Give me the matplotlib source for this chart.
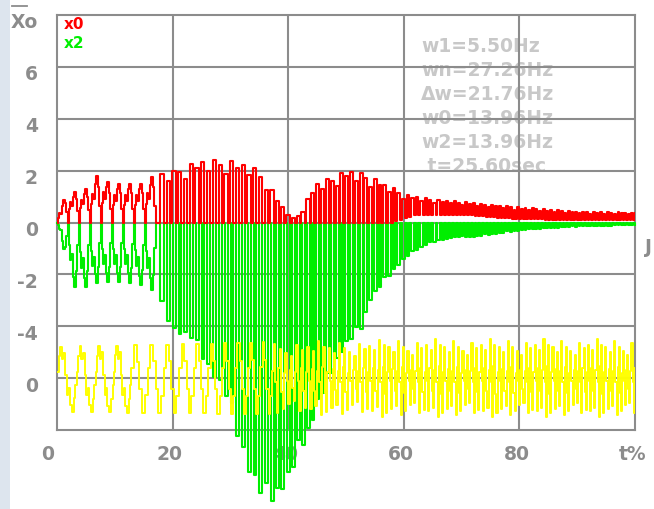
import numpy as np
import matplotlib
matplotlib.use('Agg')
import matplotlib.pyplot as plt
from matplotlib.transforms import offset_copy, blended_transform_factory
from matplotlib.patches import Rectangle
from matplotlib.lines import Line2D

W, H, DPI = 654, 509, 100

# ---------------- text content ----------------
x_tick_vals = [0, 20, 40, 60, 80, 100]
x_tick_text = ['0', '20', '40', '60', '80', 't%']
y_tick_vals = [6, 4, 2, 0, -2, -4, -6]
y_tick_text = ['6', '4', '2', '0', '-2', '-4', '0']
y_label = 'Xo'
legend_text = ['x0', 'x2']
info_text = ['w1=5.50Hz', 'wn=27.26Hz', '\u0394w=21.76Hz', 'w0=13.96Hz',
             'w2=13.96Hz', ' t=25.60sec']

# ---------------- x0 (red): envelope ----------------
red_t = [0, 1.5, 5, 7, 9, 15, 17, 20, 25, 29, 32, 33.5, 35.5, 38, 40, 41,
         42.5, 44.5, 47, 50, 51, 53.5, 56.5, 60, 63, 67, 72, 80, 89, 100]
red_hi = [0.3, 1.1, 1.3, 1.85, 1.5, 1.5, 1.9, 2.0, 2.4, 2.4, 2.3, 2.2, 1.75,
          0.85, 0.25, 0.15, 0.6, 1.5, 1.7, 2.0, 2.0, 1.8, 1.5, 1.1, 0.95,
          0.85, 0.75, 0.58, 0.42, 0.38]
red_lo_t = [0, 58, 62, 70, 80, 100]
red_lo = [0.0, 0.0, 0.3, 0.3, 0.12, 0.1]

# ---------------- x2 (green): envelope ----------------
green_t = [0, 1.4, 2.8, 5.4, 7, 12, 16, 18.4, 20, 23, 26, 28.8, 31, 33.4,
           35.7, 37.4, 39.8, 41.5, 43.3, 45, 47, 49, 52.4, 54, 56, 59, 61,
           64, 68, 72, 80, 90, 100]
green_lo = [0, -1.35, -2.5, -2.5, -2.3, -2.3, -2.5, -3.5, -4.2, -4.5, -5.6,
            -6.6, -8.2, -9.9, -10.8, -10.7, -10.0, -9.0, -8.1, -7.0, -6.0,
            -5.0, -4.1, -3.0, -2.4, -1.6, -1.2, -0.8, -0.6, -0.55, -0.3,
            -0.15, -0.1]
green_hi_t = [0, 100]
green_hi = [0.0, 0.0]

# ---------------- third trace (yellow), zero line at -6 ----------------
yel_zero = -6
yel_t = [0, 20, 40, 60, 100]
yel_hi = [1.2, 1.3, 1.4, 1.5, 1.5]
yel_lo = [-1.3, -1.35, -1.4, -1.5, -1.5]

# oscillation period (in t units) and pulse duty
rg_t = [0, 16, 18, 35, 42, 60, 70, 100]
rg_period = [1.9, 1.9, 1.0, 1.0, 0.85, 0.8, 0.65, 0.6]
red_duty = [0.5, 0.5, 0.55, 0.55, 0.65, 0.6, 0.5, 0.5]
green_duty = [0.5, 0.5, 0.45, 0.5, 0.6, 0.6, 0.5, 0.5]
red_scale = [1.0, 0.9, 0.97, 0.82, 1.0, 0.93, 0.78]
green_scale = [1.0, 0.96, 0.99, 0.93, 1.0, 0.97]
yel_per_t = [0, 20, 40, 60, 100]
yel_period = [3.4, 2.6, 1.9, 1.6, 1.5]
yel_scale = [1.0, 0.8, 0.95, 0.7, 0.9, 0.85]

# cycle shapes (phase, level) used to draw the stepped traces
slow_shape = [(0, 0.0), (0.1, 0.45), (0.2, 0.7), (0.3, 0.55), (0.45, 0.85),
              (0.55, 1.0), (0.7, 0.75), (0.85, 0.35)]
y_shape_slow = [(0, 0.2), (0.08, 0.7), (0.16, 1.0), (0.24, 0.6), (0.32, 0.8),
                (0.42, 0.1), (0.5, -0.5), (0.58, -0.3), (0.66, -0.8),
                (0.76, -1.0), (0.86, -0.6), (0.94, -0.2)]
y_shape_mid = [(0, 0.3), (0.17, 1.0), (0.33, 0.5), (0.5, -0.3), (0.67, -1.0),
               (0.83, -0.5)]
y_shape_fast = [(0, 0.2), (0.12, 1.0), (0.25, -0.1), (0.4, -1.0), (0.52, 0.3),
                (0.64, 0.85), (0.76, -0.4), (0.88, -0.9)]


def cycle_starts(tk, pk):
    s = [0.0]
    while s[-1] < 100:
        s.append(s[-1] + float(np.interp(s[-1], tk, pk)))
    return s


def pulse_trace(tk_hi, v_hi, tk_rest, v_rest, duty_k, scale_k):
    ts, vs = [], []
    for k, t0 in enumerate(cycle_starts(rg_t, rg_period)):
        P = float(np.interp(t0, rg_t, rg_period))
        if P > 1.5:
            shape, sc = slow_shape, 1.0
        else:
            d = float(np.interp(t0, rg_t, duty_k))
            shape, sc = [(0, 0.0), (1 - d, 1.0)], scale_k[k % len(scale_k)]
        for ph, s in shape:
            tt = t0 + ph * P
            if tt > 100:
                break
            r = np.interp(tt, tk_rest, v_rest)
            p = np.interp(tt, tk_hi, v_hi)
            ts.append(tt)
            vs.append(r + s * sc * (p - r))
    return ts, vs


def yellow_trace():
    ts, vs = [], []
    for k, t0 in enumerate(cycle_starts(yel_per_t, yel_period)):
        P = float(np.interp(t0, yel_per_t, yel_period))
        if P >= 2.9:
            shape, sc = y_shape_slow, 1.0
        elif P >= 2.0:
            shape, sc = y_shape_mid, 1.0
        else:
            shape, sc = y_shape_fast, yel_scale[k % len(yel_scale)]
        for ph, s in shape:
            tt = t0 + ph * P
            if tt > 100:
                break
            amp = np.interp(tt, yel_t, yel_hi) if s >= 0 else -np.interp(tt, yel_t, yel_lo)
            ts.append(tt)
            vs.append(yel_zero + s * sc * amp)
    return ts, vs


GRAY = '#8c8c8c'
LIGHT = '#c8c8c8'
FONT = dict(family='DejaVu Sans', weight='bold', size=13.5)
LFONT = dict(family='DejaVu Sans', weight='bold', size=11)

fig = plt.figure(figsize=(W / DPI, H / DPI), dpi=DPI)
fig.patch.set_facecolor('white')
fig.patches.append(Rectangle((0, 0), 10 / W, 1, transform=fig.transFigure,
                             facecolor='#dde5ee', edgecolor='none', zorder=-5))

ax = fig.add_axes([57 / W, 1 - 430 / H, 578 / W, 415 / H])
ax.set_xlim(0, 100)
ax.set_ylim(-8, 8)
ax.set_xticks([])
ax.set_yticks([])
for sp in ax.spines.values():
    sp.set_color(GRAY)
    sp.set_linewidth(1.5)
    sp.set_zorder(2)

for v in range(-6, 8, 2):
    ax.axhline(v, color=GRAY, lw=1.5, zorder=2)
for v in x_tick_vals[1:-1]:
    ax.axvline(v, color=GRAY, lw=1.5, zorder=2)

# info text block (under the grid)
for i, s in enumerate(info_text):
    ax.text(421 / W, 1 - (52 + 24 * i) / H, s, transform=fig.transFigure,
            color=LIGHT, ha='left', va='baseline', zorder=1.5, clip_on=False,
            **FONT)

# traces
yt, yv = yellow_trace()
gt, gv = pulse_trace(green_t, green_lo, green_hi_t, green_hi, green_duty, green_scale)
rt, rv = pulse_trace(red_t, red_hi, red_lo_t, red_lo, red_duty, red_scale)
ax.plot(gt, gv, color='#00ee00', lw=1.5, drawstyle='steps-post', zorder=4,
        clip_on=False)
ax.plot(yt, yv, color='#ffff00', lw=1.4, drawstyle='steps-post', zorder=4.5)
ax.plot(rt, rv, color='#ff0000', lw=1.5, drawstyle='steps-post', zorder=5)

# tick labels
bx = blended_transform_factory(ax.transData, ax.transAxes)
for v, s in zip(x_tick_vals, x_tick_text):
    ax.text(v, 0, s, transform=offset_copy(bx, fig=fig, x=-16, y=-30, units='dots'),
            ha='left', va='baseline', color=GRAY, zorder=1, clip_on=False, **FONT)
by = blended_transform_factory(ax.transAxes, ax.transData)
for v, s in zip(y_tick_vals, y_tick_text):
    ax.text(0, v, s, transform=offset_copy(by, fig=fig, x=-19, y=-13.5, units='dots'),
            ha='right', va='baseline', color=GRAY, zorder=1, clip_on=False, **FONT)

# axis name with overbar
fig.text(11 / W, 1 - 28 / H, y_label, color=GRAY, ha='left', va='baseline', **FONT)
fig.add_artist(Line2D([12 / W, 27 / W], [1 - 6 / H, 1 - 6 / H], color=GRAY, lw=1.3))

# legend
ax.text(64 / W, 1 - 29 / H, legend_text[0], transform=fig.transFigure, color='#ff0000',
        ha='left', va='baseline', zorder=6, **LFONT)
ax.text(64 / W, 1 - 48 / H, legend_text[1], transform=fig.transFigure, color='#00ee00',
        ha='left', va='baseline', zorder=6, **LFONT)

# mark at right edge
fig.text(652 / W, 1 - 253 / H, 'J', color=GRAY, ha='right', va='baseline', **FONT)

fig.savefig('out.png', dpi=DPI)
